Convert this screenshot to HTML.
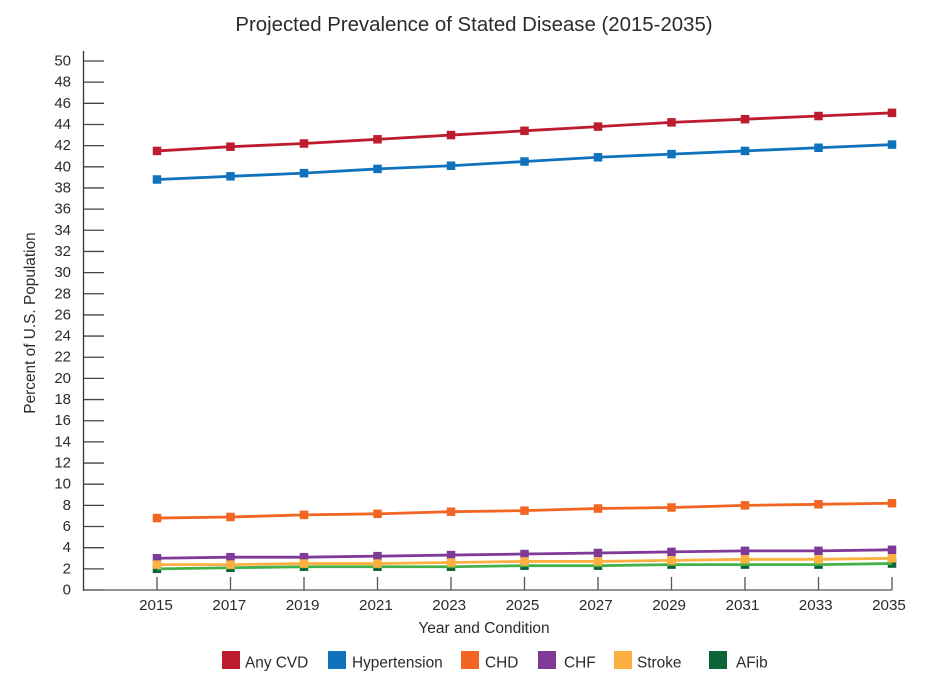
<!DOCTYPE html>
<html lang="en">
<head>
<meta charset="utf-8">
<title>Projected Prevalence of Stated Disease (2015-2035)</title>
<style>
html,body{margin:0;padding:0;background:#fff;}
svg{display:block;}
text{font-family:"Liberation Sans",Arial,sans-serif;fill:#2b2b2b;}
</style>
</head>
<body>
<svg id="chart" xmlns="http://www.w3.org/2000/svg" width="936" height="685" viewBox="0 0 936 685"></svg>
<script>
const years = [2015,2017,2019,2021,2023,2025,2027,2029,2031,2033,2035];
const yTicks = [0,2,4,6,8,10,12,14,16,18,20,22,24,26,28,30,32,34,36,38,40,42,44,46,48,50];
const anyCvd = [41.5,41.9,42.2,42.6,43.0,43.4,43.8,44.2,44.5,44.8,45.1];
const hypertension = [38.8,39.1,39.4,39.8,40.1,40.5,40.9,41.2,41.5,41.8,42.1];
const chd = [6.8,6.9,7.1,7.2,7.4,7.5,7.7,7.8,8.0,8.1,8.2];
const chf = [3.0,3.1,3.1,3.2,3.3,3.4,3.5,3.6,3.7,3.7,3.8];
const stroke = [2.4,2.4,2.5,2.5,2.6,2.7,2.7,2.8,2.9,2.9,3.0];
const afib = [2.0,2.1,2.2,2.2,2.2,2.3,2.3,2.4,2.4,2.4,2.5];

const svg = document.getElementById('chart');
const NS = 'http://www.w3.org/2000/svg';
function xScale(year){ return 157 + (year - 2015) * 36.75; }
function yScale(v){ return 590 - v * 10.58; }
function make(tag, attrs, parent){
  const el = document.createElementNS(NS, tag);
  for (const k in attrs) el.setAttribute(k, attrs[k]);
  (parent || svg).appendChild(el);
  return el;
}

// title
const title = make('text', {x:474, y:31, 'text-anchor':'middle', 'font-size':20.4});


title.textContent = 'Projected Prevalence of Stated Disease (2015-2035)';

// y axis
const yAxisGroup = make('g', {});


make('line', {x1:83.5, y1:51, x2:83.5, y2:591, stroke:'#333', 'stroke-width':1.3}, yAxisGroup);
yTicks.forEach(function(t){
  const y = yScale(t);
  make('line', {x1:83.5, y1:y, x2:104, y2:y, stroke:'#444', 'stroke-width':1.3}, yAxisGroup);
  const lab = make('text', {x:71, y:y + 4.5, 'text-anchor':'end', 'font-size':15}, yAxisGroup);
  
  
  lab.textContent = t;
});
const yTitle = make('text', {x:0, y:0, transform:'translate(35 323) rotate(-90)', 'text-anchor':'middle', 'font-size':15.4});


yTitle.textContent = 'Percent of U.S. Population';

// x axis
const xAxisGroup = make('g', {});


make('line', {x1:83, y1:590, x2:xScale(2035), y2:590, stroke:'#555', 'stroke-width':1.3}, xAxisGroup);
years.forEach(function(yr){
  const x = xScale(yr);
  make('line', {x1:x, y1:577, x2:x, y2:590, stroke:'#555', 'stroke-width':1.3}, xAxisGroup);
  const lab = make('text', {x:x - 1 - (yr - 2015) * 0.1, y:610, 'text-anchor':'middle', 'font-size':15.2}, xAxisGroup);
  
  
  lab.textContent = yr;
});
const xTitle = make('text', {x:484, y:633, 'text-anchor':'middle', 'font-size':15.5});


xTitle.textContent = 'Year and Condition';

// series
function drawSeries(values, lineColor, markerColor, name, lineOverMarkers){
  const g = make('g', {});
  
  
  const pts = values.map(function(v, i){ return xScale(years[i]) + ',' + yScale(v); }).join(' ');
  function drawLine(){
    make('polyline', {points:pts, fill:'none', stroke:lineColor, 'stroke-width':2.8}, g);
  }
  if (!lineOverMarkers) drawLine();
  values.forEach(function(v, i){
    make('rect', {x:xScale(years[i]) - 4.25, y:yScale(v) - 4.25, width:8.5, height:8.5, fill:markerColor}, g);
  });
  if (lineOverMarkers) drawLine();
}
drawSeries(anyCvd, '#bc1c2e', '#bc1c2e', 'series-any-cvd', false);
drawSeries(hypertension, '#0f72bc', '#0f72bc', 'series-hypertension', false);
drawSeries(chd, '#f26522', '#f26522', 'series-chd', false);
drawSeries(afib, '#43b04a', '#0b6535', 'series-afib', true);
drawSeries(chf, '#7f3a98', '#7f3a98', 'series-chf', false);
drawSeries(stroke, '#fbb040', '#fbb040', 'series-stroke', false);

// legend
const legendLabels = ['Any CVD','Hypertension','CHD','CHF','Stroke','AFib'];
const legendColors = ['#bc1c2e','#0f72bc','#f26522','#7f3a98','#fbb040','#0b6535'];
const legendSwatchX = [222,328,461,538,614,709];
const legendTextX = [245,352,485,564,637,736];
const legend = make('g', {});


legendLabels.forEach(function(label, i){
  const entry = make('g', {}, legend);
  
  
  make('rect', {x:legendSwatchX[i], y:651, width:18, height:18, fill:legendColors[i]}, entry);
  const t = make('text', {x:legendTextX[i], y:667.5, 'font-size':15.4}, entry);
  t.textContent = label;
});
</script>
</body>
</html>
